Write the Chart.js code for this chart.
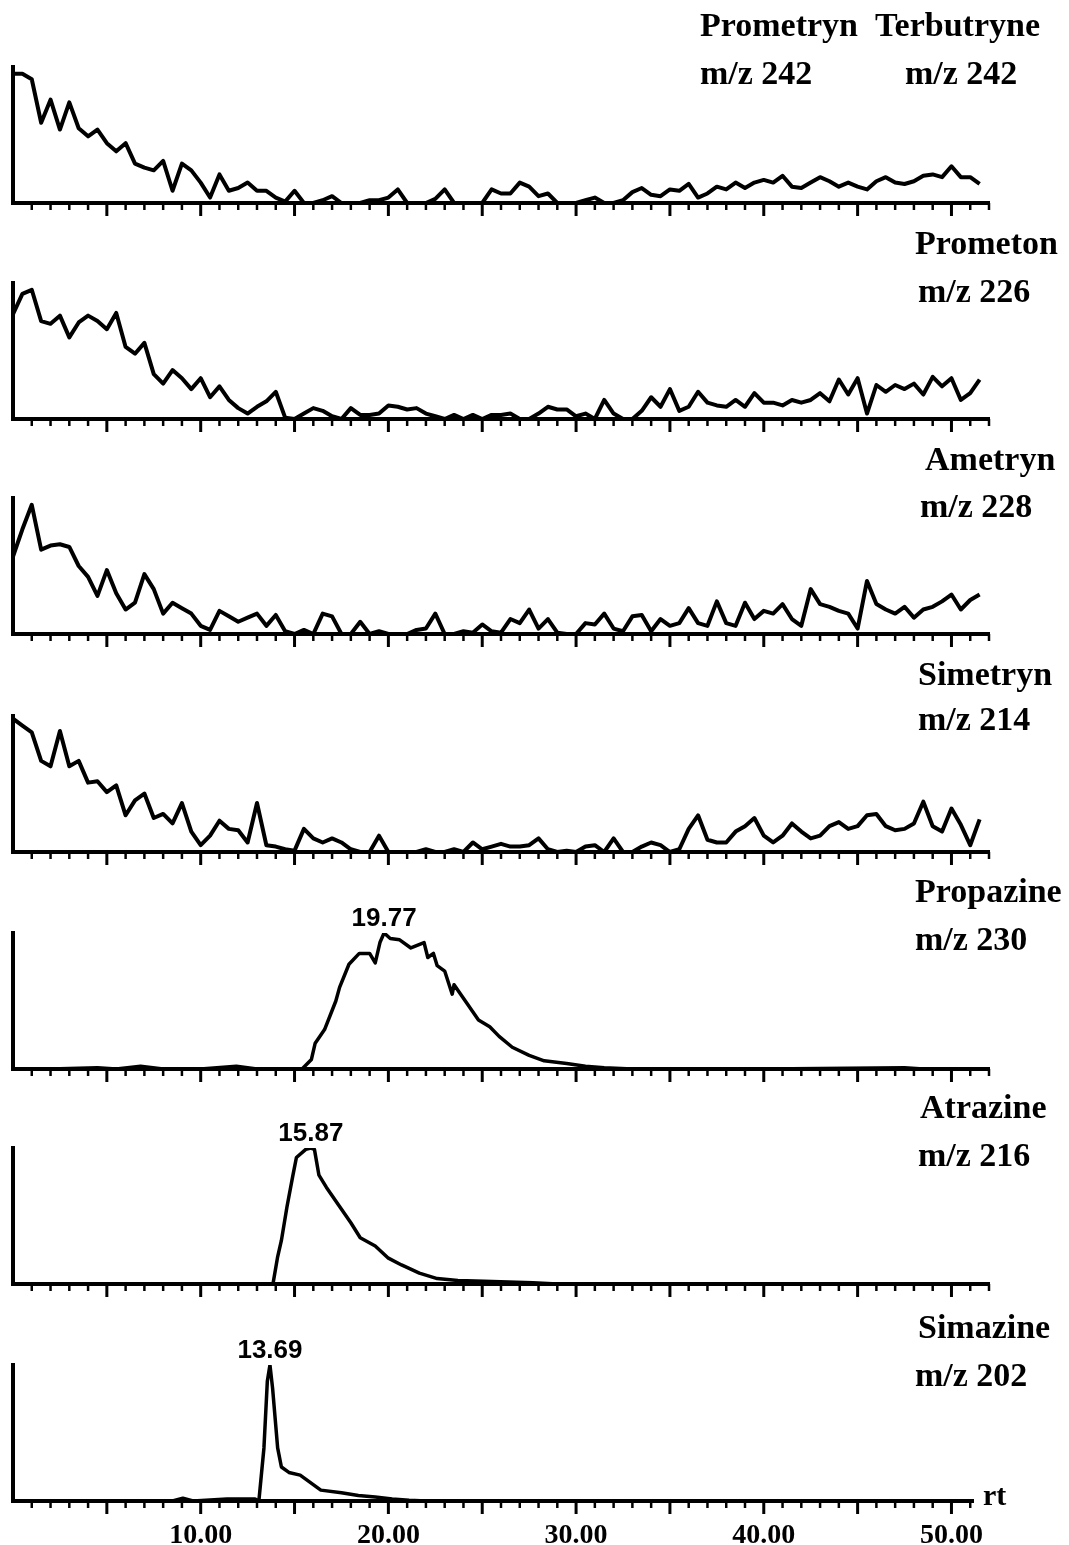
<!DOCTYPE html>
<html>
<head>
<meta charset="utf-8">
<title>Triazine SIM chromatograms</title>
<script src="https://cdn.jsdelivr.net/npm/chart.js@4.4.1/dist/chart.umd.min.js"></script>
<style>
  body { margin: 0; background: #ffffff; }
  #page { position: relative; width: 1069px; height: 1545px; overflow: hidden; background: #ffffff; }
  .panel { position: absolute; left: 0; width: 1069px; height: 216px; }
  .label {
    position: absolute;
    font: bold 34px "Liberation Serif", "Times New Roman", serif;
    line-height: 34px;
    white-space: nowrap;
    color: #000;
  }
</style>
</head>
<body>
<div id="page"></div>
<script>
/*********************************************************************************************
 *                                    CHART DATA
 *********************************************************************************************/

// noisy traces are sampled every half minute from 0 to 51.5 min
const scanStep = 0.5;
const noiseTimes = Array.from({ length: 104 }, (_, i) => i * scanStep);

// relative abundance, % of full scale
const prometrynValues = [
  95, 95, 91, 59, 76, 54, 74, 55, 49, 54,
  44, 38, 44, 29, 26, 24, 31, 9, 29, 24,
  15, 4, 21, 9, 11, 15, 9, 9, 4, 1,
  9, 0, 0, 2, 5, 0, 0, 0, 2, 2,
  4, 10, 0, 0, 0, 3, 10, 0, 0, 0,
  0, 10, 7, 7, 15, 12, 5, 7, 0, 0,
  0, 2, 4, 0, 0, 2, 8, 11, 6, 5,
  10, 9, 14, 4, 7, 12, 10, 15, 11, 15,
  17, 15, 20, 12, 11, 15, 19, 16, 12, 15,
  12, 10, 16, 19, 15, 14, 16, 20, 21, 19,
  27, 19, 19, 14
];

const prometonValues = [
  77, 92, 95, 72, 70, 76, 60, 71, 76, 72,
  66, 78, 53, 48, 56, 33, 26, 36, 30, 22,
  30, 16, 24, 14, 8, 4, 9, 13, 20, 1,
  0, 4, 8, 6, 2, 0, 8, 3, 3, 4,
  10, 9, 7, 8, 4, 2, 0, 3, 0, 3,
  0, 3, 3, 4, 0, 0, 4, 9, 7, 7,
  2, 4, 0, 14, 4, 0, 0, 6, 16, 9,
  22, 6, 9, 20, 12, 10, 9, 14, 9, 19,
  12, 12, 10, 14, 12, 14, 19, 13, 29, 18,
  30, 4, 25, 20, 25, 22, 26, 18, 31, 24,
  30, 14, 19, 29
];

const ametrynValues = [
  57, 77, 95, 62, 65, 66, 64, 50, 42, 28,
  47, 30, 18, 23, 44, 33, 15, 23, 19, 15,
  6, 3, 17, 13, 9, 12, 15, 6, 14, 2,
  0, 3, 0, 15, 13, 0, 0, 9, 0, 2,
  0, 0, 0, 3, 4, 15, 0, 0, 2, 1,
  7, 2, 1, 11, 8, 18, 4, 11, 1, 0,
  0, 8, 7, 15, 4, 2, 13, 14, 2, 11,
  6, 8, 19, 8, 6, 24, 8, 6, 23, 11,
  17, 15, 22, 11, 6, 33, 22, 20, 17, 15,
  4, 39, 22, 18, 15, 20, 12, 18, 20, 24,
  29, 18, 25, 29
];

const simetrynValues = [
  98, 93, 88, 67, 63, 89, 63, 67, 51, 52,
  44, 49, 27, 38, 43, 25, 28, 21, 36, 15,
  5, 12, 23, 17, 16, 7, 36, 5, 4, 2,
  1, 17, 10, 7, 10, 7, 2, 0, 0, 12,
  0, 0, 0, 0, 2, 0, 0, 2, 0, 7,
  2, 4, 6, 4, 4, 5, 10, 2, 0, 1,
  0, 4, 5, 0, 10, 0, 0, 4, 7, 5,
  0, 2, 17, 27, 9, 7, 7, 15, 19, 25,
  12, 7, 12, 21, 15, 10, 12, 19, 22, 17,
  19, 27, 28, 19, 16, 17, 21, 37, 19, 15,
  32, 20, 5, 24
];

// peaks
const propazineTimes = [
  0, 2, 4.5, 5.5, 6.8, 8, 10, 11.9, 13, 15.0,
  15.4, 15.9, 16.1, 16.6, 17.2, 17.4, 17.9, 18.45, 19.0, 19.3,
  19.55, 19.77, 20.1, 20.6, 21.2, 21.9, 22.1, 22.4, 22.6, 23.0,
  23.4, 23.5, 24.1, 24.8, 25.4, 25.9, 26.6, 27.5, 28.3, 29.5,
  30.5, 31.5, 33, 40, 47.5, 48.5, 52
];
const propazineValues = [
  0, 0, 1, 0, 2, 0, 0, 2, 0, 0,
  0, 7, 19, 29, 50, 60, 77, 85, 85, 78,
  93, 100, 96, 95, 89, 93, 82, 85, 76, 72,
  55, 62, 50, 36, 31, 24, 16, 10, 6, 4,
  2, 1, 0, 0, 1, 0, 0
];

const atrazineTimes = [
  0, 13.85, 14.1, 14.3, 14.6, 14.9, 15.1, 15.6, 15.87, 16.06,
  16.3, 16.7, 17.4, 18.0, 18.5, 19.3, 20.0, 20.7, 21.65, 22.6,
  23.7, 25.1, 27.7, 29, 52
];
const atrazineValues = [
  0, 0, 20, 32, 57, 79, 93, 99, 100, 99,
  80, 71, 57, 45, 34, 28, 19, 14, 8, 4,
  2.5, 2, 1, 0, 0
];

const simazineTimes = [
  0, 8.5, 9.05, 9.6, 11.4, 12.9, 13.1, 13.37, 13.55, 13.69,
  13.83, 14.1, 14.3, 14.7, 15.3, 16.4, 17.5, 18.4, 19.3, 20.2,
  21.1, 22, 51.1
];
const simazineValues = [
  0, 0, 2, 0, 1.5, 1.5, 0, 39, 88, 100,
  83, 39, 25, 21, 19, 8, 6, 4, 3, 1.5,
  0.5, 0, 0
];

// texts
const compoundNames = [
  ["Prometryn", "Terbutryne"], ["Prometon"], ["Ametryn"], ["Simetryn"],
  ["Propazine"], ["Atrazine"], ["Simazine"]
];
const ionLabels = [
  ["m/z 242", "m/z 242"], ["m/z 226"], ["m/z 228"], ["m/z 214"],
  ["m/z 230"], ["m/z 216"], ["m/z 202"]
];
const peakTexts = ["", "", "", "", "19.77", "15.87", "13.69"];
const timeAxisTitle = "rt";

/*********************************************************************************************
 *                                       PAGE LAYOUT
 *********************************************************************************************/

const layoutSettings = {
  pageWidth: 1069,
  plotLeft: 13,
  plotRight: 989,
  bottomPlotRight: 973,
  plotHeight: 136,
  padTop: 30,
  axisBand: 50,
  // y pixel of each panel baseline
  baselines: [203, 419, 634, 852, 1069, 1284, 1501],
  // [left, text baseline] of name line and ion line, per compound column
  namePos: [
    [[700, 37, 700, 85], [875, 37, 905, 85]],
    [[915, 255, 918, 303]],
    [[925, 471, 920, 518]],
    [[918, 686, 918, 731]],
    [[915, 903, 915, 951]],
    [[920, 1119, 918, 1167]],
    [[918, 1339, 915, 1387]]
  ],
  titlePos: [983, 1505]
};

const panelTraces = [
  { times: noiseTimes, values: prometrynValues, width: 4 },
  { times: noiseTimes, values: prometonValues, width: 4 },
  { times: noiseTimes, values: ametrynValues, width: 4 },
  { times: noiseTimes, values: simetrynValues, width: 4 },
  { times: propazineTimes, values: propazineValues, width: 3.5 },
  { times: atrazineTimes, values: atrazineValues, width: 3.5 },
  { times: simazineTimes, values: simazineValues, width: 3.5 }
];

/*********************************************************************************************
 *                                         PLUGINS
 *********************************************************************************************/

// short ticks every minute, longer ones every 5 minutes
const tickMarkPlugin = {
  id: "tickMarks",
  afterDraw(chart) {
    const xs = chart.scales.x;
    const ctx = chart.ctx;
    const base = chart.chartArea.bottom;
    ctx.save();
    ctx.strokeStyle = "#000";
    for (let t = 1; t <= Math.floor(xs.max); t++) {
      const major = t % 5 === 0;
      const px = xs.getPixelForValue(t);
      ctx.lineWidth = major ? 3 : 2.5;
      ctx.beginPath();
      ctx.moveTo(px, base);
      ctx.lineTo(px, base + (major ? 13 : 7));
      ctx.stroke();
    }
    ctx.restore();
  }
};

// retention time written over the top of the peak
const peakLabelPlugin = {
  id: "peakLabel",
  afterDatasetsDraw(chart, args, opts) {
    if (!opts.text) return;
    const points = chart.data.datasets[0].data;
    let best = 0;
    for (let i = 1; i < points.length; i++) {
      if (points[i].y > points[best].y) best = i;
    }
    const el = chart.getDatasetMeta(0).data[best];
    const ctx = chart.ctx;
    ctx.save();
    ctx.fillStyle = "#000";
    ctx.font = 'bold 26px "Liberation Sans", Arial, sans-serif';
    ctx.textAlign = "center";
    ctx.textBaseline = "alphabetic";
    ctx.fillText(opts.text, el.x, el.y - 7);
    ctx.restore();
  }
};

/*********************************************************************************************
 *                                      CHART BUILDING
 *********************************************************************************************/

function getPanelConfig(index) {
  const trace = panelTraces[index];
  const isBottom = index === panelTraces.length - 1;
  const right = isBottom ? layoutSettings.bottomPlotRight : layoutSettings.plotRight;
  const pxPerMin = (layoutSettings.plotRight - layoutSettings.plotLeft) / 52;
  const axisMax = (right - layoutSettings.plotLeft) / pxPerMin;

  const points = trace.times.map((t, i) => ({ x: t, y: trace.values[i] }));

  return {
    type: "line",
    data: {
      datasets: [{
        data: points,
        borderColor: "#000",
        borderWidth: trace.width,
        borderJoinStyle: "round",
        pointRadius: 0,
        tension: 0,
        fill: false
      }]
    },
    options: {
      animation: false,
      responsive: true,
      maintainAspectRatio: false,
      layout: {
        padding: {
          left: layoutSettings.plotLeft,
          right: layoutSettings.pageWidth - right,
          top: layoutSettings.padTop,
          bottom: 0
        }
      },
      plugins: {
        legend: { display: false },
        tooltip: { enabled: false },
        peakLabel: { text: peakTexts[index] }
      },
      scales: {
        x: {
          type: "linear",
          min: 0,
          max: axisMax,
          grid: { display: false },
          border: { display: true, color: "#000", width: 4 },
          ticks: {
            display: isBottom,
            stepSize: 10,
            includeBounds: false,
            autoSkip: false,
            maxRotation: 0,
            padding: 10,
            color: "#000",
            font: { family: '"Liberation Serif", "Times New Roman", serif', size: 28, weight: "bold" },
            callback: (v) => (v === 0 ? "" : Number(v).toFixed(2))
          },
          afterFit: (scale) => { scale.height = layoutSettings.axisBand; }
        },
        y: {
          min: 0,
          max: 100,
          grid: { display: false },
          ticks: { display: false },
          border: { display: true, color: "#000", width: 4 },
          afterFit: (scale) => { scale.width = 0; }
        }
      }
    },
    plugins: [tickMarkPlugin, peakLabelPlugin]
  };
}

function addLabel(page, text, left, baseline, size) {
  const div = document.createElement("div");
  div.className = "label";
  if (size) {
    div.style.fontSize = size + "px";
    div.style.lineHeight = size + "px";
  }
  div.textContent = text;
  div.style.left = left + "px";
  div.style.top = (baseline - 0.84 * (size || 34)) + "px";
  page.appendChild(div);
}

function renderPage() {
  const page = document.getElementById("page");

  panelTraces.forEach((trace, i) => {
    const holder = document.createElement("div");
    holder.className = "panel";
    holder.style.top = (layoutSettings.baselines[i] - layoutSettings.plotHeight - layoutSettings.padTop) + "px";
    const canvas = document.createElement("canvas");
    holder.appendChild(canvas);
    page.appendChild(holder);
    new Chart(canvas, getPanelConfig(i));

    layoutSettings.namePos[i].forEach((pos, col) => {
      addLabel(page, compoundNames[i][col], pos[0], pos[1]);
      addLabel(page, ionLabels[i][col], pos[2], pos[3]);
    });
  });

  addLabel(page, timeAxisTitle, layoutSettings.titlePos[0], layoutSettings.titlePos[1], 30);
}

renderPage();
</script>
</body>
</html>
